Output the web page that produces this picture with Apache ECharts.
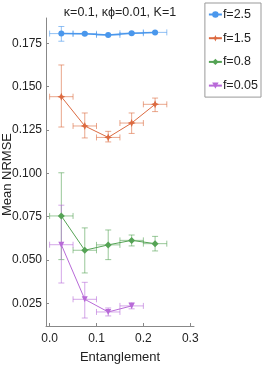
<!DOCTYPE html>
<html>
<head>
<meta charset="utf-8">
<script src="https://cdn.jsdelivr.net/npm/echarts@6/dist/echarts.min.js"></script>
<style>html,body{margin:0;padding:0;background:#fff;}#c{width:263px;height:366px;}</style>
</head>
<body>
<div id="c"></div>
<script>
var titleText = 'κ=0.1, κϕ=0.01, K=1';
var xName = 'Entanglement';
var yName = 'Mean NRMSE';
var yTicks = [0.025, 0.050, 0.075, 0.100, 0.125, 0.150, 0.175];
var xTicks = [0.0, 0.1, 0.2, 0.3];

var seriesNames = ['f=2.5', 'f=1.5', 'f=0.8', 'f=0.05'];
var xs = [0.025, 0.075, 0.125, 0.175, 0.225];
var xErr = [0.025, 0.025, 0.025, 0.025, 0.025];

var f25Mean = [0.1806, 0.1805, 0.1798, 0.1808, 0.1813];
var f25Lo   = [0.1762, 0.1799, 0.1794, 0.1803, 0.1809];
var f25Hi   = [0.1847, 0.1811, 0.1802, 0.1813, 0.1817];

var f15Mean = [0.1442, 0.1273, 0.1207, 0.1290, 0.1398];
var f15Lo   = [0.1267, 0.1204, 0.1181, 0.1230, 0.1356];
var f15Hi   = [0.1625, 0.1348, 0.1242, 0.1348, 0.1434];

var f08Mean = [0.0754, 0.0556, 0.0587, 0.0613, 0.0594];
var f08Lo   = [0.0502, 0.0425, 0.0502, 0.0581, 0.0552];
var f08Hi   = [0.1003, 0.0685, 0.0673, 0.0644, 0.0636];

var f005Mean = [0.0588, 0.0273, 0.0200, 0.0235];
var f005Lo   = [0.0367, 0.0165, 0.0177, 0.0218];
var f005Hi   = [0.0816, 0.0371, 0.0223, 0.0254];

var colors = ['#4a97ec', '#dc6a40', '#55a355', '#b86ad8'];
var symbols = ['circle',
  'path://M0,-10 L3,-3 L10,0 L3,3 L0,10 L-3,3 L-10,0 L-3,-3 Z',
  'diamond', 'triangle'];
var symbolSizes = [6, 8, 7, 6];
var symbolRot = [0, 0, 0, 180];

var means = [f25Mean, f15Mean, f08Mean, f005Mean];
var los = [f25Lo, f15Lo, f08Lo, f005Lo];
var his = [f25Hi, f15Hi, f08Hi, f005Hi];

var FONT = 'Liberation Sans, Arial, sans-serif';
var chart = echarts.init(document.getElementById('c'), null, {renderer: 'canvas'});

function errRender(color) {
  return function (params, api) {
    var x = api.value(0), y = api.value(1), lo = api.value(2), hi = api.value(3), xe = api.value(4);
    var pC = api.coord([x, y]);
    var pLo = api.coord([x, lo]);
    var pHi = api.coord([x, hi]);
    var pL = api.coord([x - xe, y]);
    var pR = api.coord([x + xe, y]);
    var cap = 3;
    var st = {stroke: color, lineWidth: 1, opacity: 0.6};
    function ln(a, b, c, d) { return {type: 'line', shape: {x1: a, y1: b, x2: c, y2: d}, style: st}; }
    return {type: 'group', children: [
      ln(pC[0], pLo[1], pC[0], pHi[1]),
      ln(pC[0] - cap, pLo[1], pC[0] + cap, pLo[1]),
      ln(pC[0] - cap, pHi[1], pC[0] + cap, pHi[1]),
      ln(pL[0], pC[1], pR[0], pC[1]),
      ln(pL[0], pC[1] - cap, pL[0], pC[1] + cap),
      ln(pR[0], pC[1] - cap, pR[0], pC[1] + cap)
    ]};
  };
}

var series = [];
for (var s = 0; s < seriesNames.length; s++) {
  var errData = [];
  for (var i = 0; i < means[s].length; i++) {
    errData.push([xs[i], means[s][i], los[s][i], his[s][i], xErr[i]]);
  }
  series.push({
    type: 'custom', name: seriesNames[s] + ' error', renderItem: errRender(colors[s]),
    data: errData, z: 1, silent: true, encode: {x: 0, y: [1, 2, 3]}
  });
}
for (var s2 = 0; s2 < seriesNames.length; s2++) {
  var ld = [];
  for (var j = 0; j < means[s2].length; j++) ld.push([xs[j], means[s2][j]]);
  series.push({
    type: 'line', name: seriesNames[s2], data: ld, z: 3,
    symbol: symbols[s2], symbolSize: symbolSizes[s2], symbolRotate: symbolRot[s2],
    showAllSymbol: true,
    lineStyle: {color: colors[s2], width: s2 === 0 ? 1.5 : 1},
    itemStyle: {color: colors[s2]},
    emphasis: {disabled: true}, animation: false
  });
}

var option = {
  animation: false,
  backgroundColor: '#fff',
  color: colors,
  title: {
    text: titleText, left: 120, top: 6, padding: 0, textAlign: 'center',
    textStyle: {fontFamily: FONT, fontSize: 12.5, fontWeight: 'normal', color: '#222'}
  },
  legend: {
    data: seriesNames,
    orient: 'vertical', right: 2, top: 3,
    padding: [5, 3, 5, 3],
    itemWidth: 13, itemHeight: 8, itemGap: 10.7,
    borderColor: '#999', borderWidth: 1,
    textStyle: {fontFamily: FONT, fontSize: 12.5, color: '#222', padding: [0, 0, 0, -4]}
  },
  grid: {left: 46, right: 69, top: 18, bottom: 40, containLabel: false, outerBoundsMode: 'none'},
  xAxis: {
    type: 'value', min: -0.0077, max: 0.308,
    name: xName, nameLocation: 'middle', nameGap: 25, nameMoveOverlap: false,
    nameTextStyle: {fontFamily: FONT, fontSize: 13, color: '#222'},
    axisLine: {show: true, onZero: false, lineStyle: {color: '#888', width: 1}},
    axisTick: {show: true, inside: true, length: 3, customValues: xTicks, lineStyle: {color: '#888'}},
    axisLabel: {customValues: xTicks, fontFamily: FONT, fontSize: 12, color: '#222', margin: 7,
      formatter: function (v) { return v.toFixed(1); }},
    splitLine: {show: false}
  },
  yAxis: {
    type: 'value', min: 0.0119, max: 0.1896,
    name: yName, nameLocation: 'middle', nameGap: 32, nameMoveOverlap: false,
    nameTextStyle: {fontFamily: FONT, fontSize: 13, color: '#222', padding: [0, 5, 0, 0]},
    axisLine: {show: true, onZero: false, lineStyle: {color: '#888', width: 1}},
    axisTick: {show: true, inside: true, length: 3, customValues: yTicks, lineStyle: {color: '#888'}},
    axisLabel: {customValues: yTicks, fontFamily: FONT, fontSize: 12, color: '#222', margin: 4,
      formatter: function (v) { return v.toFixed(3); }},
    splitLine: {show: false}
  },
  series: series
};
chart.setOption(option);
</script>
</body>
</html>
